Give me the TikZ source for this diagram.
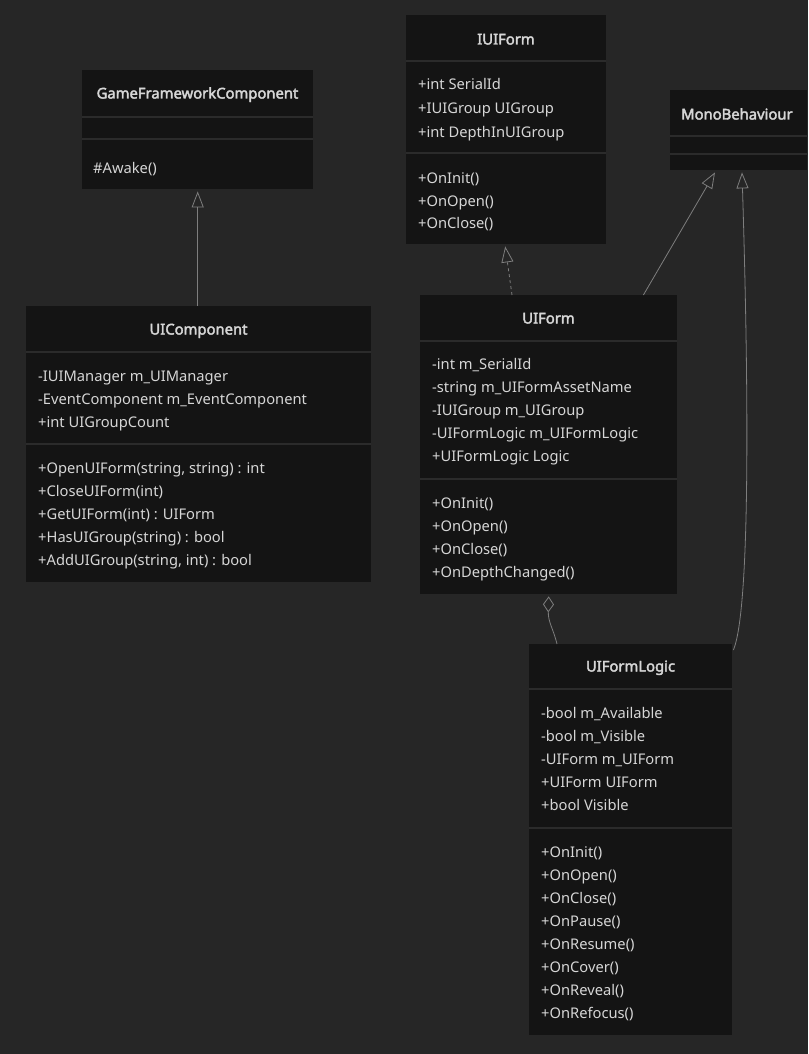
\documentclass[tikz,border=0pt]{standalone}
\usepackage{fontspec}
\setmainfont{Noto Sans}[AutoFakeBold=2.6]
\usetikzlibrary{arrows.meta,calc}
\definecolor{bg}{HTML}{262626}
\definecolor{boxfill}{HTML}{141414}
\definecolor{sepc}{HTML}{2B2B2B}
\definecolor{txt}{HTML}{D6D6D6}
\definecolor{edge}{HTML}{7E7E7E}
\tikzset{
  classbox/.style={draw=none, fill=boxfill, inner sep=0pt, anchor=north west},
  sepline/.style={draw=sepc, line width=1.6pt},
  classtitle/.style={text=txt, font=\fontsize{14.8}{16}\selectfont\bfseries, inner sep=0pt, anchor=base},
  member/.style={text=txt, font=\fontsize{14.7}{16}\selectfont, inner sep=0pt, anchor=base west},
  inherit/.style={draw=edge, line width=0.8pt, -{Triangle[open, length=16pt, width=12pt]}},
  realize/.style={inherit, dashed, dash pattern=on 3pt off 3pt},
  aggreg/.style={draw=edge, line width=0.8pt, -{Diamond[open, length=16pt, width=11pt]}}
}
\begin{document}
\begin{tikzpicture}[x=1pt,y=-1pt]
\fill[bg] (0,0) rectangle (808,1054);
\useasboundingbox (0,0) rectangle (808,1054);

% GameFrameworkComponent
\node[classbox, minimum width=231pt, minimum height=119pt] (gfc) at (82,70) {};
\draw[sepline] (82,117) -- (313,117);
\draw[sepline] (82,139) -- (313,139);
\node[classtitle] (gfct) at (197.5,98.5) {GameFrameworkComponent};
\node[member] (gfcm0) at (93,173.5) {\#Awake()};

% UIComponent
\node[classbox, minimum width=345pt, minimum height=276pt] (uic) at (26,306) {};
\draw[sepline] (26,352) -- (371,352);
\draw[sepline] (26,444) -- (371,444);
\node[classtitle] (uict) at (198.5,334.5) {UIComponent};
\foreach \t [count=\i from 0] in {-IUIManager m\_UIManager, -EventComponent m\_EventComponent, +int UIGroupCount}
  \node[member] (uica\i) at (38,{381.5+23*\i}) {\t};
\foreach \t [count=\i from 0] in {{+OpenUIForm(string, string) : int}, +CloseUIForm(int), +GetUIForm(int) : UIForm, +HasUIGroup(string) : bool, {+AddUIGroup(string, int) : bool}}
  \node[member] (uicm\i) at (38,{473.5+23*\i}) {\t};

% IUIForm
\node[classbox, minimum width=200pt, minimum height=229pt] (iuf) at (406,15) {};
\draw[sepline] (406,61) -- (606,61);
\draw[sepline] (406,153) -- (606,153);
\node[classtitle] (ifut) at (506,44.5) {IUIForm};
\foreach \t [count=\i from 0] in {+int SerialId, +IUIGroup UIGroup, +int DepthInUIGroup}
  \node[member] (iufa\i) at (418,{90+23.5*\i}) {\t};
\foreach \t [count=\i from 0] in {+OnInit(), +OnOpen(), +OnClose()}
  \node[member] (iufm\i) at (418,{183.5+22.5*\i}) {\t};

% MonoBehaviour
\node[classbox, minimum width=137pt, minimum height=80pt] (mono) at (670,90) {};
\draw[sepline] (670,136) -- (807,136);
\draw[sepline] (670,154) -- (807,154);
\node[classtitle, anchor=base west] (monot) at (681,119.5) {MonoBehaviour};

% UIForm
\node[classbox, minimum width=257pt, minimum height=299pt] (uf) at (420,295) {};
\draw[sepline] (420,341) -- (677,341);
\draw[sepline] (420,479) -- (677,479);
\node[classtitle] (uft) at (548.5,323.5) {UIForm};
\foreach \t [count=\i from 0] in {-int m\_SerialId, -string m\_UIFormAssetName, -IUIGroup m\_UIGroup, -UIFormLogic m\_UIFormLogic, +UIFormLogic Logic}
  \node[member] (ufa\i) at (432,{369.5+23*\i}) {\t};
\foreach \t [count=\i from 0] in {+OnInit(), +OnOpen(), +OnClose(), +OnDepthChanged()}
  \node[member] (ufm\i) at (432,{508.5+23*\i}) {\t};

% UIFormLogic
\node[classbox, minimum width=203pt, minimum height=391pt] (ufl) at (529,644) {};
\draw[sepline] (529,689) -- (732,689);
\draw[sepline] (529,828) -- (732,828);
\node[classtitle] (uflt) at (630.5,671.5) {UIFormLogic};
\foreach \t [count=\i from 0] in {-bool m\_Available, -bool m\_Visible, -UIForm m\_UIForm, +UIForm UIForm, +bool Visible}
  \node[member] (ufla\i) at (541,{718.5+23*\i}) {\t};
\foreach \t [count=\i from 0] in {+OnInit(), +OnOpen(), +OnClose(), +OnPause(), +OnResume(), +OnCover(), +OnReveal(), +OnRefocus()}
  \node[member] (uflm\i) at (541,{857.5+23*\i}) {\t};

% connectors
\draw[inherit] (uic.north -| gfc.south) -- ($(gfc.south)+(0,2)$);
\draw[realize] ($(uf.north west)+(92,0)$) -- ($(iuf.south)+(-1,2)$);
\draw[inherit] ($(uf.north east)+(-34,0)$) -- ($(mono.south west)+(45,2)$);
\draw[inherit] ($(ufl.north east)+(1,6)$) .. controls (750,610) and (749,400) .. ($(mono.south west)+(72,2)$);
\draw[aggreg] ($(ufl.north west)+(28,0)$) .. controls (553,628) and (548,622) .. ($(uf.south)+(0,2)$);
\end{tikzpicture}
\end{document}
